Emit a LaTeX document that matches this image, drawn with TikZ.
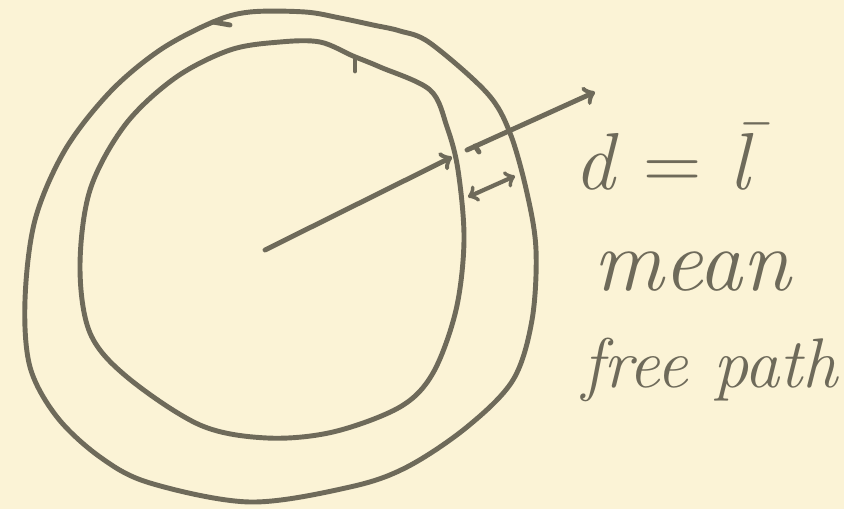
\documentclass[tikz,border=0pt]{standalone}
\usepackage{xcolor}
\usepackage{amsmath}
\usepackage{tikz}
\usetikzlibrary{arrows, positioning, calc}

\definecolor{paper}{HTML}{FBF3D6}
\definecolor{ink}{HTML}{6E6A5A}

\newcommand\lbar{\makebox[0pt][l]{\hspace{-0.06em}\raisebox{0.22em}{\char"00AF}}l}

\begin{document}
\begin{tikzpicture}[
    x=0.02cm, y=-0.02cm,
    pen/.style={draw=ink, line width=2.8pt, line cap=round, line join=round},
    arrow/.style={pen, ->},
    dblarrow/.style={pen, <->, line width=2.4pt},
    note/.style={text=ink, font=\itshape, inner sep=0pt}
]
    \fill[paper] (0,0) rectangle (844,509);
    \useasboundingbox (0,0) rectangle (844,509);

    % outer shell
    \draw[pen] plot[smooth cycle, tension=0.55] coordinates {
        (213,22) (250,12) (305,12) (340,18) (373,25) (400,31) (430,43)
        (487,93) (510,133) (527,193) (536,250) (532,320) (513,380)
        (467,427) (407,467) (350,487) (250,502) (150,483) (100,457)
        (57,417) (30,367) (25,300) (35,220) (65,150) (110,92) (160,50)};
    \draw[pen] (213,22) -- (230,25);

    % inner sphere
    \draw[pen] plot[smooth cycle, tension=0.55] coordinates {
        (230,50) (280,42) (320,42) (353,56) (380,67) (430,90)
        (447,127) (458,170) (464,240) (456,310) (433,373) (400,407)
        (333,432) (267,438) (200,425) (127,377) (90,333) (80,267)
        (90,190) (125,125) (175,78)};
    \draw[pen] (355,59) -- (355,71);

    \coordinate (centre) at (265,250);
    \coordinate (innerhit) at (452,157);
    \coordinate (outstart) at (467,150);
    \coordinate (outend) at (595,92);
    \coordinate (gapin) at (468,197);
    \coordinate (gapout) at (515,176);

    \draw[arrow] (centre) -- (innerhit);
    \draw[arrow] (outstart) -- (outend);
    \draw[pen] (475,146) -- (479,152);
    \draw[dblarrow] (gapin) -- (gapout);

    \node[note, font=\itshape\fontsize{46}{50}\selectfont, anchor=base] (eq) at (662,190) {d {\upshape =} \lbar};
    \node[note, font=\itshape\fontsize{50}{54}\selectfont] (mean) at (692,272) {mean};
    \node[note, font=\itshape\fontsize{40}{44}\selectfont] (fp) at (710,370) {free path};
\end{tikzpicture}
\end{document}
